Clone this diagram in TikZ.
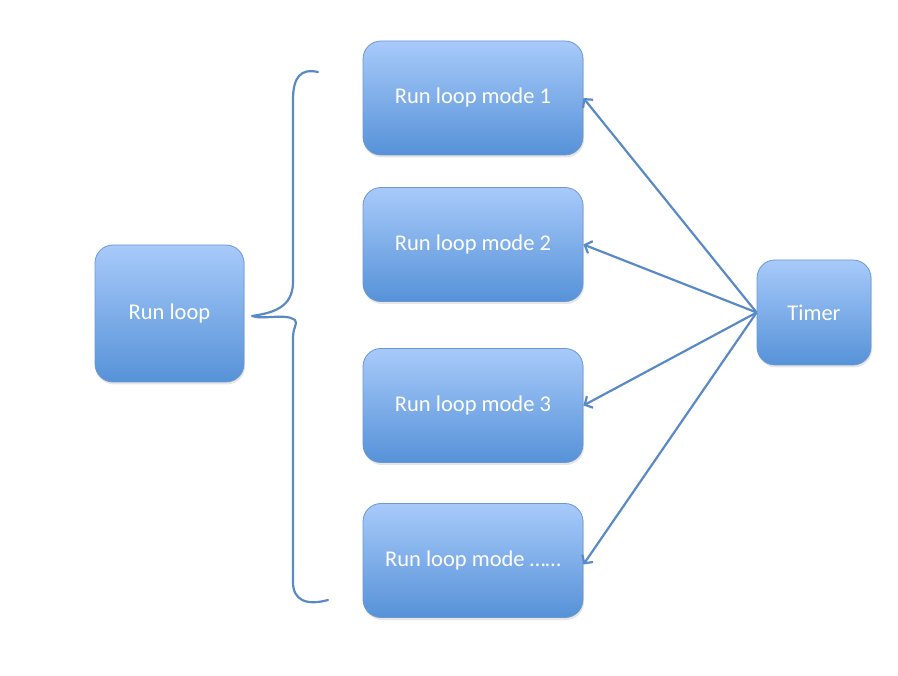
\documentclass[tikz,border=0pt]{standalone}
\usepackage{fontspec}
\setmainfont{Carlito}
\usetikzlibrary{arrows.meta,shadows}
\definecolor{boxtop}{RGB}{168,202,250}
\definecolor{boxbot}{RGB}{86,146,216}
\definecolor{boxline}{RGB}{108,152,210}
\definecolor{linkblue}{RGB}{90,138,198}
\tikzstyle{every node}=[font=\fontsize{22.5}{27}\selectfont]
\tikzstyle{mode}=[draw=boxline,line width=0.8pt,rounded corners=18pt,
  top color=boxtop,bottom color=boxbot,text=white,
  minimum width=220pt,minimum height=114pt,
  drop shadow={opacity=0.2,shadow xshift=1pt,shadow yshift=-2.5pt}]
\tikzstyle{link}=[draw=linkblue,line width=2.2pt,-{Straight Barb[length=6pt,width=13pt]}]
\tikzstyle{brace line}=[draw=linkblue,line width=2.2pt,line cap=round,line join=round]

\begin{document}
\begin{tikzpicture}[x=1pt,y=-1pt]
\useasboundingbox (0,0) rectangle (898,676);

\node[mode,minimum width=149pt,minimum height=137pt] (loop) at (169.5,313.5) {Run loop};
\node[mode] (m1) at (473,98) {Run loop mode 1};
\node[mode] (m2) at (473,244.5) {Run loop mode 2};
\node[mode] (m3) at (473,405.5) {Run loop mode 3};
\node[mode] (m4) at (473,560.5) {Run loop mode \dots\dots};
\node[mode,minimum width=114pt,minimum height=105pt] (timer) at (814,312.5) {Timer};

% brace from the run loop to its modes
\coordinate (tip) at (252,316);
\draw[brace line] (318,72) .. controls (300,68) and (293,78) .. (293,100)
  -- (293,282) .. controls (293,308) and (272,313) .. (tip)
  .. controls (262,320) and (286,313) .. (295,320)
  .. controls (298,324) and (293,327) .. (293,338)
  -- (293,582) .. controls (293,600) and (306,606) .. (328,600);

% timer works in every mode
\draw[link] (timer.west) -- (m1.east);
\draw[link] (timer.west) -- (m2.east);
\draw[link] (timer.west) -- (m3.east);
\draw[link] (timer.west) -- ([yshift=-4pt]m4.east);
\end{tikzpicture}
\end{document}
